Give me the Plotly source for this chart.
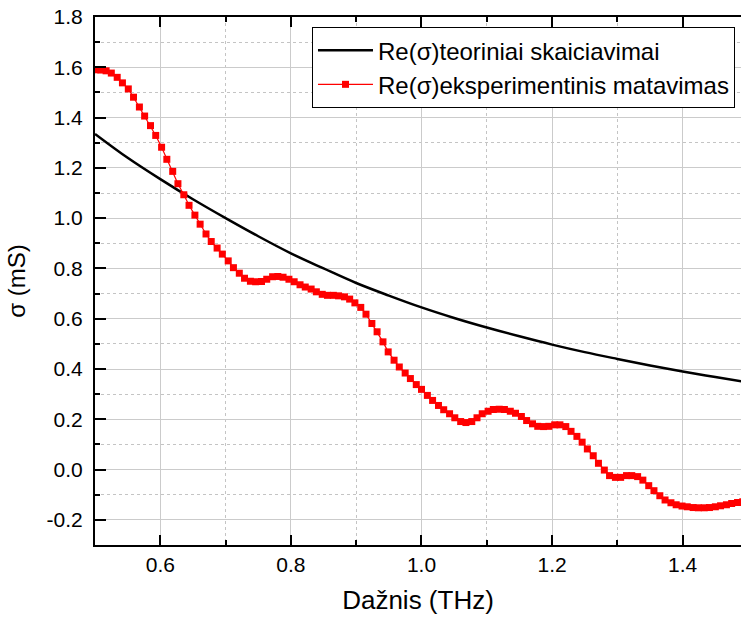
import plotly.graph_objects as go

# Theoretical Re(sigma) curve, sampled every 0.05 THz
theory_freq = [0.50, 0.55, 0.60, 0.65, 0.70, 0.75, 0.80, 0.85, 0.90, 0.95, 1.00,
               1.05, 1.10, 1.15, 1.20, 1.25, 1.30, 1.35, 1.40, 1.45, 1.50]
theory_sigma = [1.335, 1.240, 1.155, 1.075, 1.000, 0.928, 0.860, 0.800, 0.742, 0.692, 0.645,
                0.603, 0.565, 0.530, 0.497, 0.467, 0.440, 0.414, 0.390, 0.368, 0.347]

# Measured Re(sigma)
exp_freq = [0.500, 0.509, 0.517, 0.525, 0.534, 0.542, 0.551, 0.559, 0.568, 0.576,
            0.585, 0.593, 0.602, 0.610, 0.619, 0.627, 0.636, 0.644, 0.653, 0.661,
            0.670, 0.678, 0.687, 0.695, 0.704, 0.712, 0.721, 0.729, 0.738, 0.746,
            0.755, 0.763, 0.772, 0.780, 0.788, 0.797, 0.805, 0.814, 0.822, 0.831,
            0.839, 0.848, 0.856, 0.865, 0.873, 0.882, 0.890, 0.898, 0.907, 0.915,
            0.924, 0.932, 0.941, 0.949, 0.958, 0.966, 0.975, 0.983, 0.992, 1.000,
            1.009, 1.017, 1.026, 1.034, 1.043, 1.051, 1.060, 1.068, 1.077, 1.085,
            1.093, 1.102, 1.110, 1.119, 1.127, 1.136, 1.144, 1.153, 1.161, 1.170,
            1.178, 1.187, 1.195, 1.204, 1.212, 1.221, 1.229, 1.238, 1.246, 1.254,
            1.263, 1.271, 1.280, 1.288, 1.297, 1.305, 1.314, 1.322, 1.331, 1.339,
            1.348, 1.356, 1.365, 1.373, 1.382, 1.390, 1.399, 1.407, 1.416, 1.424,
            1.433, 1.441, 1.450, 1.458, 1.467, 1.475, 1.484, 1.492, 1.500]
exp_sigma = [1.590, 1.589, 1.586, 1.577, 1.560, 1.538, 1.514, 1.481, 1.442, 1.406,
             1.368, 1.329, 1.282, 1.234, 1.186, 1.137, 1.093, 1.051, 1.012, 0.976,
             0.937, 0.907, 0.881, 0.857, 0.830, 0.803, 0.781, 0.761, 0.749, 0.747,
             0.748, 0.757, 0.767, 0.768, 0.765, 0.757, 0.747, 0.735, 0.726, 0.718,
             0.707, 0.697, 0.693, 0.693, 0.691, 0.687, 0.678, 0.663, 0.645, 0.618,
             0.581, 0.548, 0.508, 0.468, 0.435, 0.408, 0.384, 0.362, 0.338, 0.319,
             0.295, 0.275, 0.255, 0.238, 0.222, 0.206, 0.191, 0.187, 0.191, 0.206,
             0.222, 0.232, 0.239, 0.240, 0.239, 0.232, 0.224, 0.211, 0.195, 0.182,
             0.172, 0.171, 0.172, 0.178, 0.178, 0.171, 0.152, 0.132, 0.109, 0.082,
             0.055, 0.025, -0.002, -0.024, -0.031, -0.031, -0.024, -0.024, -0.028, -0.042,
             -0.064, -0.084, -0.104, -0.121, -0.132, -0.140, -0.145, -0.148, -0.151, -0.152,
             -0.152, -0.151, -0.148, -0.144, -0.140, -0.135, -0.131, -0.128, -0.125]

y_ticks = [-0.2, 0.0, 0.2, 0.4, 0.6, 0.8, 1.0, 1.2, 1.4, 1.6, 1.8]
y_tick_text = ["-0.2", "0.0", "0.2", "0.4", "0.6", "0.8", "1.0", "1.2", "1.4", "1.6", "1.8"]

FONT = "Liberation Sans, Arial, sans-serif"

fig = go.Figure()
fig.add_trace(go.Scatter(
    x=theory_freq, y=theory_sigma, mode="lines",
    line=dict(color="black", width=2.5, shape="spline"),
    name="Re(σ)teoriniai skaiciavimai",
))
fig.add_trace(go.Scatter(
    x=exp_freq, y=exp_sigma, mode="lines+markers",
    line=dict(color="#ff0000", width=1.2),
    marker=dict(symbol="square", size=7, color="#ff0000"),
    name="Re(σ)eksperimentinis matavimas",
))

fig.update_layout(
    width=741, height=621,
    margin=dict(l=95, r=0, t=17, b=76),
    paper_bgcolor="white", plot_bgcolor="white",
    font=dict(family=FONT, color="black"),
    showlegend=True,
    legend=dict(
        x=0.9907, y=0.981, xanchor="right", yanchor="top",
        bgcolor="white", bordercolor="black", borderwidth=1,
        font=dict(size=24, family=FONT, color="black"),
        itemwidth=55, tracegroupgap=0,
    ),
)

fig.update_xaxes(
    range=[0.5, 1.4893],
    title=dict(text="Dažnis (THz)", font=dict(size=26, family=FONT), standoff=16),
    tickmode="linear", tick0=0.6, dtick=0.2, tickformat=".1f",
    tickfont=dict(size=21, family=FONT),
    ticks="inside", ticklen=10, tickwidth=2, tickcolor="black",
    showline=True, linecolor="black", linewidth=2, mirror="allticks",
    showgrid=True, gridcolor="#cbcbcb", gridwidth=1,
    zeroline=False,
    minor=dict(tickmode="linear", tick0=0.5, dtick=0.1, ticks="inside", ticklen=5,
               tickwidth=2, tickcolor="black", showgrid=True,
               gridcolor="#c4c4c4", griddash="dot", gridwidth=1),
)
fig.update_yaxes(
    range=[-0.3, 1.8],
    title=dict(text="σ (mS)", font=dict(size=24, family=FONT), standoff=14),
    tickmode="array", tickvals=y_ticks, ticktext=y_tick_text,
    tickfont=dict(size=21, family=FONT),
    ticks="inside", ticklen=11, tickwidth=2, tickcolor="black",
    ticklabelstandoff=6,
    showline=True, linecolor="black", linewidth=2, mirror=False,
    showgrid=True, gridcolor="#cbcbcb", gridwidth=1,
    zeroline=False,
    minor=dict(tickmode="linear", tick0=-0.3, dtick=0.1, ticks="inside", ticklen=5,
               tickwidth=2, tickcolor="black", showgrid=True,
               gridcolor="#c4c4c4", griddash="dot", gridwidth=1),
)

fig.write_html("out.html")
